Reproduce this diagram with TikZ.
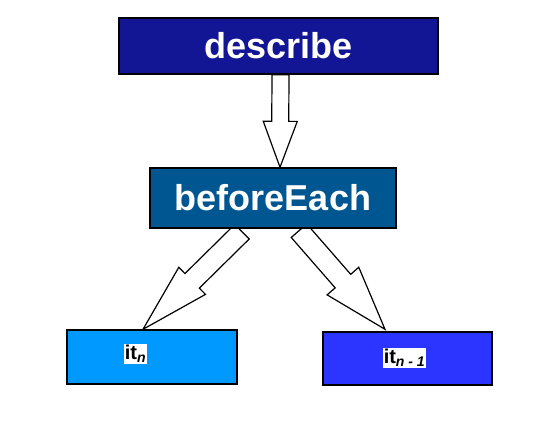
\documentclass[tikz,border=0pt]{standalone}
\usepackage{fontspec}
\setmainfont{Liberation Sans}
\usetikzlibrary{calc, backgrounds}
\definecolor{descBlue}{HTML}{131694}
\definecolor{hookBlue}{HTML}{005691}
\definecolor{itLight}{HTML}{0099FF}
\definecolor{itBright}{HTML}{2B35FF}
\tikzset{
  boxSpec/.style={rectangle, draw=black, line width=1.4pt, text=white,
                  inner sep=0pt, font=\fontsize{36}{40}\selectfont\bfseries},
  boxIt/.style={rectangle, draw=black, line width=1.4pt, inner sep=0pt},
  tagIt/.style={fill=white, text=black, inner sep=1.2pt,
                font=\fontsize{20}{22}\selectfont\bfseries},
  arrowBlock/.style={draw=black, fill=white, line width=1.2pt, line join=miter},
}
% block arrow: from, to, shaft half width, head half width, head length
\newcommand{\fatArrow}[5]{%
  \coordinate (fa-h) at ($(#2)!#5!(#1)$);
  \draw[arrowBlock] ($(#1)!#3!90:(#2)$) -- ($(fa-h)!#3!90:(#2)$)
    -- ($(fa-h)!#4!90:(#2)$) -- (#2) -- ($(fa-h)!#4!-90:(#2)$)
    -- ($(fa-h)!#3!-90:(#2)$) -- ($(#1)!#3!-90:(#2)$) -- cycle;
}

\begin{document}
\begin{tikzpicture}[x=1pt, y=-1pt]
    \useasboundingbox (0,0) rectangle (545,427);
    \node[boxSpec, fill=descBlue, minimum width=319pt, minimum height=56pt]
      (desc) at (278.5,46) {describe};
    \node[boxSpec, fill=hookBlue, minimum width=246pt, minimum height=60pt]
      (before) at (273,198) {beforeEach};
    \node[boxIt, fill=itLight, minimum width=170pt, minimum height=54pt]
      (itA) at (152,357) {};
    \node[boxIt, fill=itBright, minimum width=169pt, minimum height=53pt]
      (itB) at (407.5,358.5) {};
    \node[tagIt] (tagA) at (135.5,354) {it\textsubscript{\textit{n}}};
    \node[tagIt] (tagB) at (404.5,357.5) {it\textsubscript{\textit{n - 1}}};
    % arrows behind the boxes
    \coordinate (s0) at ([xshift=2pt]desc.south);
    \coordinate (t0) at ([xshift=7pt]before.north);
    \coordinate (s1) at ([xshift=-31pt, yshift=-3pt]before.south);
    \coordinate (t1) at ([xshift=-9pt]itA.north);
    \coordinate (s2) at ([xshift=26pt, yshift=-2pt]before.south);
    \coordinate (t2) at ([xshift=-22.5pt, yshift=2pt]itB.north);
    \begin{scope}[on background layer]
      \fatArrow{s0}{t0}{8.5pt}{17pt}{46pt}
      \fatArrow{s1}{t1}{10.25pt}{19pt}{69pt}
      \fatArrow{s2}{t2}{10.3pt}{21pt}{64pt}
    \end{scope}
\end{tikzpicture}
\end{document}
